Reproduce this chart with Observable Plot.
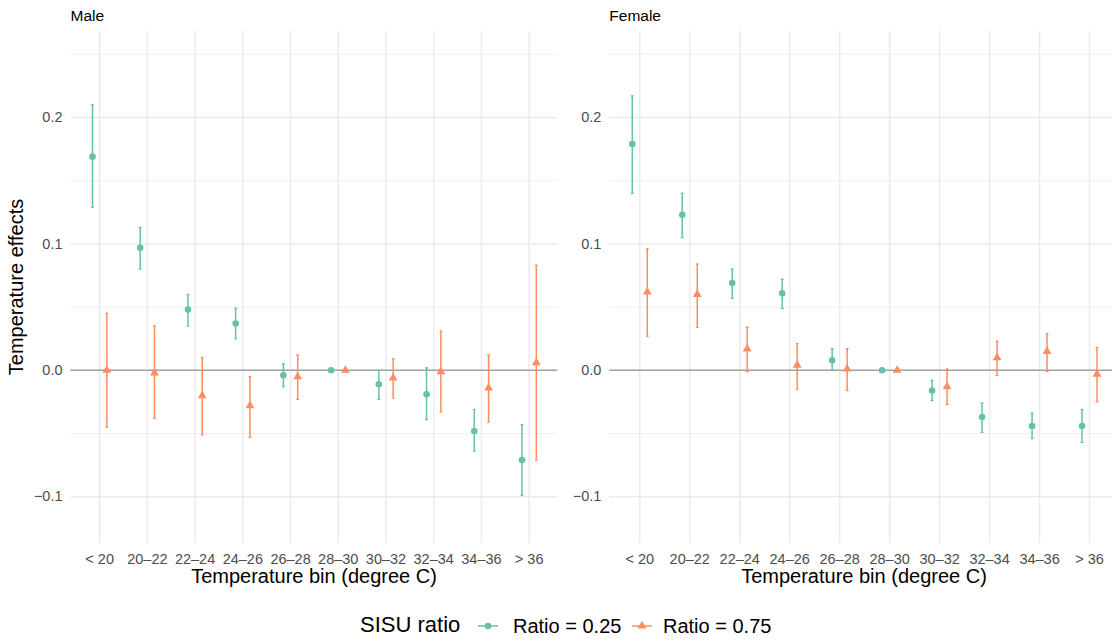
<!DOCTYPE html>
<html>
<head>
<meta charset="utf-8">
<script src="https://cdn.jsdelivr.net/npm/d3@7"></script>
<script src="https://cdn.jsdelivr.net/npm/@observablehq/plot@0.6"></script>
<style>
  html, body { margin: 0; padding: 0; background: #fff; }
  body { width: 1112px; height: 641px; overflow: hidden; position: relative;
         font-family: "Liberation Sans", Arial, Helvetica, sans-serif; }
  .abs { position: absolute; white-space: nowrap; line-height: 1; }
  .ptitle { font-size: 15.5px; color: #000; }
  .xtitle { font-size: 20px; color: #000; transform: translateX(-50%); }
  .ytitle { font-size: 20px; color: #000; transform: translate(-50%, -50%) rotate(-90deg); }
  .ltitle { font-size: 22px; color: #000; }
  .llab { font-size: 20px; color: #000; }
</style>
</head>
<body>
<div id="root"></div>
<script>
// ---------------- data ----------------
const bins = ["< 20", "20–22", "22–24", "24–26", "26–28", "28–30", "30–32", "32–34", "34–36", "> 36"];
const seriesNames = ["Ratio = 0.25", "Ratio = 0.75"];
const seriesColors = ["#66c2a5", "#fc8d62"];
const yMajor = [-0.1, 0.0, 0.1, 0.2];
const yMinor = [-0.05, 0.05, 0.15, 0.25];

// Male, Ratio = 0.25
const maleLowEst = [0.169, 0.097, 0.048, 0.037, -0.004, 0, -0.011, -0.019, -0.048, -0.071];
const maleLowLo  = [0.129, 0.080, 0.035, 0.025, -0.013, 0, -0.023, -0.039, -0.064, -0.099];
const maleLowHi  = [0.210, 0.113, 0.060, 0.049, 0.005, 0, 0.000, 0.002, -0.031, -0.043];
// Male, Ratio = 0.75
const maleHighEst = [0.000, -0.002, -0.020, -0.028, -0.005, 0, -0.006, -0.001, -0.014, 0.006];
const maleHighLo  = [-0.045, -0.038, -0.051, -0.053, -0.023, 0, -0.022, -0.033, -0.041, -0.071];
const maleHighHi  = [0.045, 0.035, 0.010, -0.005, 0.012, 0, 0.009, 0.031, 0.012, 0.083];
// Female, Ratio = 0.25
const femaleLowEst = [0.179, 0.123, 0.069, 0.061, 0.008, 0, -0.016, -0.037, -0.044, -0.044];
const femaleLowLo  = [0.140, 0.105, 0.057, 0.049, 0.000, 0, -0.024, -0.049, -0.054, -0.057];
const femaleLowHi  = [0.217, 0.140, 0.080, 0.072, 0.017, 0, -0.008, -0.026, -0.034, -0.031];
// Female, Ratio = 0.75
const femaleHighEst = [0.062, 0.060, 0.017, 0.004, 0.001, 0, -0.013, 0.010, 0.015, -0.003];
const femaleHighLo  = [0.027, 0.034, -0.001, -0.015, -0.016, 0, -0.027, -0.004, -0.001, -0.025];
const femaleHighHi  = [0.096, 0.084, 0.034, 0.021, 0.017, 0, 0.001, 0.023, 0.029, 0.018];

// ---------------- drawing ----------------
const DODGE = 0.15;
const CAP = 0.03;
const fmtY = d => (d < 0 ? "−" : "") + Math.abs(d).toFixed(1);

function buildRows(e1, l1, h1, e2, l2, h2) {
  const rows = [];
  bins.forEach((b, i) => {
    rows.push({series: seriesNames[0], x: i - DODGE, est: e1[i], lo: l1[i], hi: h1[i]});
    rows.push({series: seriesNames[1], x: i + DODGE, est: e2[i], lo: l2[i], hi: h2[i]});
  });
  return rows;
}

function panel(rows, cfg) {
  const bars = rows.filter(d => d.hi !== d.lo);
  return Plot.plot({
    width: cfg.width,
    height: 568,
    marginLeft: cfg.marginLeft,
    marginRight: cfg.marginRight,
    marginTop: 31,
    marginBottom: 25,
    style: {fontFamily: '"Liberation Sans", Arial, sans-serif', fontSize: "14.5px", background: "transparent", overflow: "visible"},
    x: {domain: [-0.6, bins.length - 0.4]},
    y: {domain: [-0.137, 0.268]},
    color: {domain: seriesNames, range: seriesColors},
    symbol: {domain: seriesNames, range: ["circle", "triangle"]},
    marks: [
      Plot.gridY(yMinor, {stroke: "#ebebeb", strokeOpacity: 1, strokeWidth: 0.8}),
      Plot.gridY(yMajor, {stroke: "#ebebeb", strokeOpacity: 1, strokeWidth: 1.5}),
      Plot.gridX(d3.range(bins.length), {stroke: "#ebebeb", strokeOpacity: 1, strokeWidth: 1.5}),
      Plot.ruleY([0], {stroke: "#a3a3a3", strokeWidth: 1.4}),
      Plot.ruleX(bars, {x: "x", y1: "lo", y2: "hi", stroke: "series", strokeWidth: 1.5}),
      Plot.link(bars, {x1: d => d.x - CAP, x2: d => d.x + CAP, y1: "hi", y2: "hi", stroke: "series", strokeWidth: 1.3}),
      Plot.link(bars, {x1: d => d.x - CAP, x2: d => d.x + CAP, y1: "lo", y2: "lo", stroke: "series", strokeWidth: 1.3}),
      Plot.dot(rows, {x: "x", y: "est", fill: "series", symbol: "series", r: 3.3, stroke: null}),
      Plot.axisX({ticks: d3.range(bins.length), tickFormat: i => bins[i], tickSize: 0, tickPadding: 10, color: "#4d4d4d", fontSize: 14.5, label: null}),
      Plot.axisY({ticks: yMajor, tickFormat: fmtY, tickSize: 0, tickPadding: 8.5, color: "#4d4d4d", fontSize: 14.5, label: null})
    ]
  });
}

const root = document.getElementById("root");
function place(el, left, top) {
  el.style.position = "absolute";
  el.style.left = left + "px";
  el.style.top = top + "px";
  root.appendChild(el);
}
function addText(cls, text, left, top) {
  const d = document.createElement("div");
  d.className = "abs " + cls;
  d.textContent = text;
  d.style.left = left + "px";
  d.style.top = top + "px";
  root.appendChild(d);
  return d;
}

const maleRows = buildRows(maleLowEst, maleLowLo, maleLowHi, maleHighEst, maleHighLo, maleHighHi);
const femaleRows = buildRows(femaleLowEst, femaleLowLo, femaleLowHi, femaleHighEst, femaleHighLo, femaleHighHi);

place(panel(maleRows, {width: 560, marginLeft: 70.5, marginRight: 2.7}), 0, 0);
place(panel(femaleRows, {width: 566, marginLeft: 53.3, marginRight: 3}), 556, 0);

// titles
addText("ptitle", "Male", 70.5, 8);
addText("ptitle", "Female", 609.3, 8);
addText("xtitle", "Temperature bin (degree C)", 314, 566);
addText("xtitle", "Temperature bin (degree C)", 864, 566);
addText("ytitle", "Temperature effects", 16, 287);

// legend
addText("ltitle", "SISU ratio", 360, 614);
function key(color, shape, left) {
  const ns = "http://www.w3.org/2000/svg";
  const s = document.createElementNS(ns, "svg");
  s.setAttribute("width", 22); s.setAttribute("height", 14);
  const l = document.createElementNS(ns, "line");
  l.setAttribute("x1", 1); l.setAttribute("x2", 21); l.setAttribute("y1", 7); l.setAttribute("y2", 7);
  l.setAttribute("stroke", color); l.setAttribute("stroke-width", 1.5);
  s.appendChild(l);
  const p = document.createElementNS(ns, "path");
  p.setAttribute("d", d3.symbol(shape, Math.PI * 3.3 * 3.3)());
  p.setAttribute("transform", "translate(11,7)");
  p.setAttribute("fill", color);
  s.appendChild(p);
  place(s, left, 619);
}
key(seriesColors[0], d3.symbolCircle, 477);
addText("llab", seriesNames[0], 513, 616);
key(seriesColors[1], d3.symbolTriangle, 631);
addText("llab", seriesNames[1], 663, 616);
</script>
</body>
</html>
